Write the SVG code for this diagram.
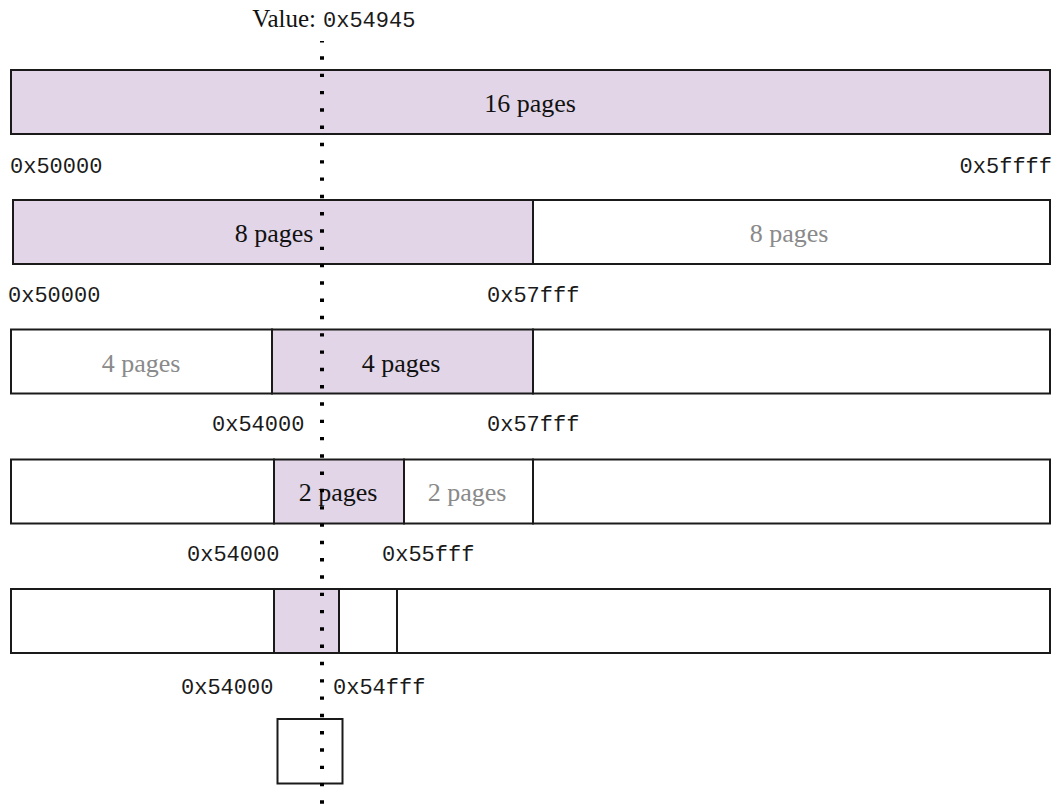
<svg xmlns="http://www.w3.org/2000/svg" width="1060" height="805" viewBox="0 0 1060 805">
  <style>
    .seg { stroke: #1a1a1a; stroke-width: 2; }
    .sel { fill: #e1d5e7; }
    .free { fill: #ffffff; }
    .pg { font-family: "Liberation Serif", "Times New Roman", serif; font-size: 26px; text-anchor: middle; fill: #111111; }
    .pg.dim { fill: #8a8a8a; }
    .addr { font-family: "Liberation Mono", "Courier New", monospace; font-size: 22px; fill: #1a1a1a; }
    .val { font-family: "Liberation Serif", "Times New Roman", serif; font-size: 25px; fill: #111111; text-anchor: end; }
    .probe { stroke: #000000; stroke-width: 4; stroke-dasharray: 3.4 13.9; stroke-dashoffset: 1.95; fill: none; }
  </style>

  <rect width="1060" height="805" fill="#ffffff"/>

  <!-- lookup value -->
  <g id="value-label">
    <text x="316" y="27" class="val">Value:</text>
    <text x="323" y="27" class="addr">0x54945</text>
  </g>

  <!-- level 1: whole 16-page range -->
  <g id="level1">
    <rect x="11" y="70" width="1039" height="64" class="seg sel"/>
    <text x="530" y="112" class="pg">16 pages</text>
    <text x="10" y="173" class="addr">0x50000</text>
    <text x="1052" y="173" class="addr" text-anchor="end">0x5ffff</text>
  </g>

  <!-- level 2: split into halves -->
  <g id="level2">
    <rect x="13" y="200" width="520" height="64" class="seg sel"/>
    <rect x="533" y="200" width="517" height="64" class="seg free"/>
    <text x="274" y="241.5" class="pg">8 pages</text>
    <text x="789" y="241.5" class="pg dim">8 pages</text>
    <text x="8" y="302" class="addr">0x50000</text>
    <text x="487" y="302" class="addr">0x57fff</text>
  </g>

  <!-- level 3 -->
  <g id="level3">
    <rect x="11" y="329.5" width="261" height="64" class="seg free"/>
    <rect x="272" y="329.5" width="261" height="64" class="seg sel"/>
    <rect x="533" y="329.5" width="517" height="64" class="seg free"/>
    <text x="141" y="371.5" class="pg dim">4 pages</text>
    <text x="401" y="371.5" class="pg">4 pages</text>
    <text x="212" y="431" class="addr">0x54000</text>
    <text x="487" y="431" class="addr">0x57fff</text>
  </g>

  <!-- level 4 -->
  <g id="level4">
    <rect x="11" y="459.5" width="263" height="64" class="seg free"/>
    <rect x="274" y="459.5" width="130" height="64" class="seg sel"/>
    <rect x="404" y="459.5" width="129" height="64" class="seg free"/>
    <rect x="533" y="459.5" width="517" height="64" class="seg free"/>
    <text x="338" y="500.5" class="pg">2 pages</text>
    <text x="467" y="500.5" class="pg dim">2 pages</text>
    <text x="187" y="561" class="addr">0x54000</text>
    <text x="382" y="561" class="addr">0x55fff</text>
  </g>

  <!-- level 5 -->
  <g id="level5">
    <rect x="11" y="589" width="263" height="64" class="seg free"/>
    <rect x="274" y="589" width="65" height="64" class="seg sel"/>
    <rect x="339" y="589" width="58" height="64" class="seg free"/>
    <rect x="397" y="589" width="653" height="64" class="seg free"/>
    <text x="181" y="694" class="addr">0x54000</text>
    <text x="333" y="694" class="addr">0x54fff</text>
  </g>

  <!-- level 6: single page -->
  <g id="level6">
    <rect x="277.5" y="719" width="65" height="64.5" class="seg free"/>
  </g>

  <!-- probe line through the value -->
  <g id="connectors">
    <line x1="322" y1="41" x2="322" y2="805" class="probe"/>
  </g>
</svg>
